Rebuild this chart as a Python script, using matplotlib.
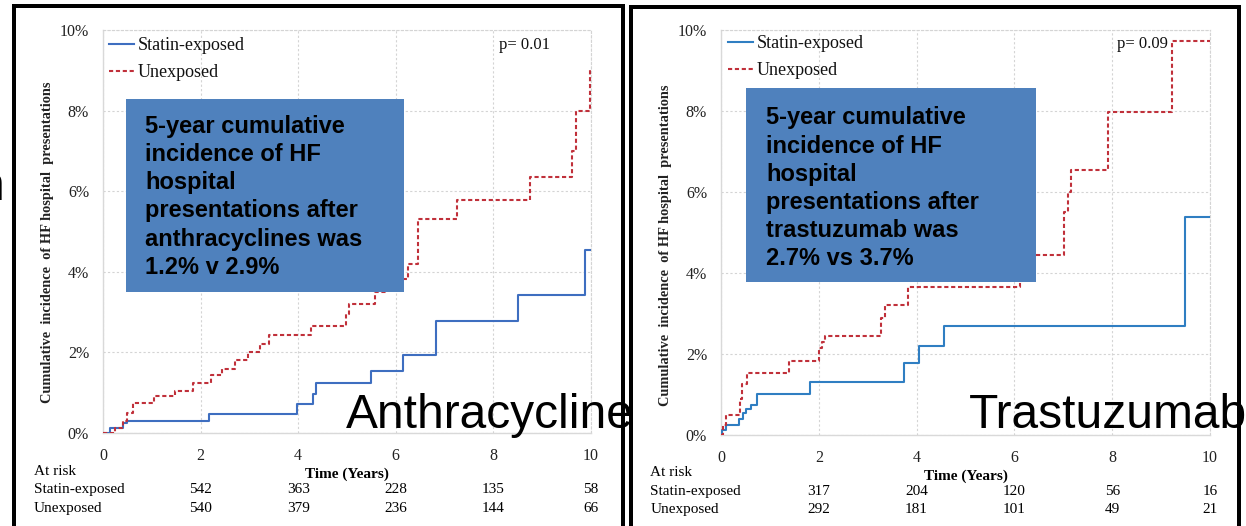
import matplotlib
matplotlib.use("Agg")
import matplotlib.pyplot as plt
import matplotlib.transforms as mtransforms
from matplotlib.patches import Rectangle
from matplotlib.ticker import FuncFormatter

# ---------------- data ----------------
# Left panel: Anthracycline
anth_statin_t = [0, 0.15, 0.40, 0.50, 2.17, 3.97, 4.30, 4.36, 5.50, 6.15, 6.83, 8.50, 9.88, 10.0]
anth_statin_y = [0, 0.12, 0.25, 0.30, 0.47, 0.72, 0.97, 1.24, 1.55, 1.93, 2.78, 3.42, 4.55, 4.55]
anth_unexp_t = [0, 0.25, 0.40, 0.50, 0.62, 1.05, 1.47, 1.84, 2.21, 2.44, 2.70, 2.98, 3.21, 3.41,
                4.27, 4.98, 5.05, 5.57, 5.85, 6.13, 6.25, 6.45, 7.26, 8.76, 9.62, 9.70, 9.97, 10.0]
anth_unexp_y = [0, 0.12, 0.30, 0.50, 0.75, 0.92, 1.05, 1.25, 1.43, 1.60, 1.80, 2.00, 2.20, 2.42,
                2.65, 2.95, 3.20, 3.50, 3.65, 3.82, 4.20, 5.32, 5.77, 6.35, 7.00, 8.00, 9.00, 9.00]

# Right panel: Trastuzumab
tras_statin_t = [0, 0.03, 0.10, 0.36, 0.45, 0.52, 0.61, 0.74, 1.83, 3.74, 4.05, 4.56, 9.48, 10.0]
tras_statin_y = [0, 0.12, 0.25, 0.40, 0.55, 0.65, 0.75, 1.02, 1.32, 1.78, 2.20, 2.70, 5.38, 5.38]
tras_unexp_t = [0, 0.05, 0.11, 0.38, 0.43, 0.53, 1.40, 2.00, 2.06, 2.12, 3.28, 3.36, 3.82,
                6.12, 6.30, 7.02, 7.10, 7.16, 7.92, 9.23, 10.0]
tras_unexp_y = [0, 0.25, 0.50, 0.90, 1.25, 1.52, 1.82, 2.15, 2.30, 2.45, 2.90, 3.22, 3.65,
                4.00, 4.45, 5.50, 6.00, 6.55, 7.98, 9.72, 9.72]

risk_times = [2, 4, 6, 8, 10]
anth_risk_statin = [542, 363, 228, 135, 58]
anth_risk_unexp = [540, 379, 236, 144, 66]
tras_risk_statin = [317, 204, 120, 56, 16]
tras_risk_unexp = [292, 181, 101, 49, 21]

x_ticks = [0, 2, 4, 6, 8, 10]
y_ticks = [0, 2, 4, 6, 8, 10]

series_labels = ["Statin-exposed", "Unexposed"]
p_values = ["p= 0.01", "p= 0.09"]
box_texts = [
    "5-year cumulative\nincidence of HF\nhospital\npresentations after\nanthracyclines was\n1.2% v 2.9%",
    "5-year cumulative\nincidence of HF\nhospital\npresentations after\ntrastuzumab was\n2.7% vs 3.7%",
]
panel_titles = ["Anthracycline", "Trastuzumab"]
ylabel_text = "Cumulative  incidence  of HF hospital  presentations"

# ---------------- style ----------------
W, H = 1246, 526
SERIF = ["Liberation Serif", "DejaVu Serif"]
SANS = ["Liberation Sans", "DejaVu Sans"]
BOX_COLOR = "#4F81BD"
RED = "#C0303A"
BLUE_L = "#3E6EC0"
BLUE_R = "#2F7EC2"
GRID = "#D4D4D4"

fig = plt.figure(figsize=(W / 100, H / 100), dpi=100)
fig.patch.set_facecolor("white")


def fx(px):
    return px / W


def fy(py):
    return 1 - py / H


panels = [
    dict(rect=[fx(103), fy(433), fx(488), 403 / H],
         statin=(anth_statin_t, anth_statin_y), unexp=(anth_unexp_t, anth_unexp_y),
         risk=(anth_risk_statin, anth_risk_unexp), blue=BLUE_L,
         leg_anchor=(0.0115, 0.982), p_pos=(0.812, 0.963),
         box=(0.0478, 0.351, 0.6164 - 0.0478, 0.830 - 0.351), box_txt=(0.0865, 0.586),
         risk_lab_x=-0.1424, risk_y=(-0.0958, -0.1414, -0.187), time_y=-0.1017,
         ylab=(47.6, 242), title=(346, 428), text_idx=0),
    dict(rect=[fx(721), fy(435), fx(489), 405 / H],
         statin=(tras_statin_t, tras_statin_y), unexp=(tras_unexp_t, tras_unexp_y),
         risk=(tras_risk_statin, tras_risk_unexp), blue=BLUE_R,
         leg_anchor=(0.014, 0.988), p_pos=(0.81, 0.966),
         box=(0.0513, 0.3768, 0.6434 - 0.0513, 0.8565 - 0.3768), box_txt=(0.092, 0.609),
         risk_lab_x=-0.1446, risk_y=(-0.0938, -0.1395, -0.185), time_y=-0.1027,
         ylab=(665, 245), title=(968.5, 427.6), text_idx=1),
]

for pnl in panels:
    ax = fig.add_axes(pnl["rect"])
    ax.set_xlim(0, 10)
    ax.set_ylim(0, 10)
    ax.set_xticks(x_ticks)
    ax.set_yticks(y_ticks)
    ax.yaxis.set_major_formatter(FuncFormatter(lambda v, _: f"{v:.0f}%"))
    ax.tick_params(length=0, labelsize=11.5, colors="#222222")
    ax.tick_params(axis="y", pad=10)
    ax.tick_params(axis="x", pad=10.5)
    for lab in ax.get_xticklabels() + ax.get_yticklabels():
        lab.set_family(SERIF)
    ax.grid(True, color=GRID, linestyle=(0, (2, 2)), linewidth=0.8)
    ax.set_axisbelow(True)
    for s in ["left", "bottom"]:
        ax.spines[s].set_color("#D9D9D9")
        ax.spines[s].set_linewidth(1.0)
    for s in ["top", "right"]:
        ax.spines[s].set_color(GRID)
        ax.spines[s].set_linestyle((0, (2, 2)))
        ax.spines[s].set_linewidth(0.8)

    st_t, st_y = pnl["statin"]
    un_t, un_y = pnl["unexp"]
    ax.step(st_t, st_y, where="post", color=pnl["blue"], lw=1.5, label=series_labels[0], zorder=3)
    ax.step(un_t, un_y, where="post", color=RED, lw=1.5, linestyle=(0, (2.0, 1.3)),
            label=series_labels[1], zorder=3)

    leg = ax.legend(loc="upper left", bbox_to_anchor=pnl["leg_anchor"], frameon=False,
                    prop={"family": SERIF, "size": 13}, handlelength=1.4,
                    handletextpad=0.2, borderaxespad=0, borderpad=0, labelspacing=0.56)
    for t in leg.get_texts():
        t.set_color("#111111")

    ax.text(pnl["p_pos"][0], pnl["p_pos"][1], p_values[pnl["text_idx"]], transform=ax.transAxes,
            family=SERIF, fontsize=12, va="center", ha="left", color="#111111")

    bx, by, bw, bh = pnl["box"]
    ax.add_patch(Rectangle((bx, by), bw, bh, transform=ax.transAxes, facecolor=BOX_COLOR,
                           edgecolor="none", zorder=5))
    ax.text(pnl["box_txt"][0], pnl["box_txt"][1], box_texts[pnl["text_idx"]],
            transform=ax.transAxes, family=SANS, weight="bold", fontsize=17,
            va="center", ha="left", linespacing=1.29, color="black", zorder=6)

    # at-risk table
    blend = mtransforms.blended_transform_factory(ax.transData, ax.transAxes)
    ry0, ry1, ry2 = pnl["risk_y"]
    ax.text(pnl["risk_lab_x"], ry0, "At risk", transform=ax.transAxes, family=SERIF,
            fontsize=11, va="center", ha="left", clip_on=False)
    ax.text(pnl["risk_lab_x"], ry1, series_labels[0], transform=ax.transAxes, family=SERIF,
            fontsize=11, va="center", ha="left", clip_on=False)
    ax.text(pnl["risk_lab_x"], ry2, series_labels[1], transform=ax.transAxes, family=SERIF,
            fontsize=11, va="center", ha="left", clip_on=False)
    rs, ru = pnl["risk"]
    for t, a, b in zip(risk_times, rs, ru):
        ax.text(t, ry1, str(a), transform=blend, family=SERIF, fontsize=11,
                va="center", ha="center", clip_on=False)
        ax.text(t, ry2, str(b), transform=blend, family=SERIF, fontsize=11,
                va="center", ha="center", clip_on=False)
    ax.text(5, pnl["time_y"], "Time (Years)", transform=blend, family=SERIF, weight="bold",
            fontsize=11, va="center", ha="center", clip_on=False)

    fig.text(fx(pnl["ylab"][0]), fy(pnl["ylab"][1]), ylabel_text, rotation=90, family=SERIF,
             weight="bold", fontsize=10.4, va="center", ha="center", color="#222222")

    fig.text(fx(pnl["title"][0]), fy(pnl["title"][1]), panel_titles[pnl["text_idx"]],
             family=SANS, fontsize=34.5, va="baseline", ha="left", color="black", zorder=20)

# partial letter at far left edge (cut off in the original too)
fig.text(fx(5), fy(200), "n", family=SANS, fontsize=34.5, va="baseline", ha="right",
         color="black", zorder=20)

# black frames around the two panels
lw_frame = 4 * 72 / 100
fig.patches.append(Rectangle((fx(14), -0.05), fx(623 - 14), fy(5.5) + 0.05,
                             transform=fig.transFigure, fill=False, edgecolor="black",
                             linewidth=lw_frame, zorder=10))
fig.patches.append(Rectangle((fx(631), -0.05), fx(1239 - 631), fy(6.5) + 0.05,
                             transform=fig.transFigure, fill=False, edgecolor="black",
                             linewidth=lw_frame, zorder=10))

fig.savefig("out.png", dpi=100)
